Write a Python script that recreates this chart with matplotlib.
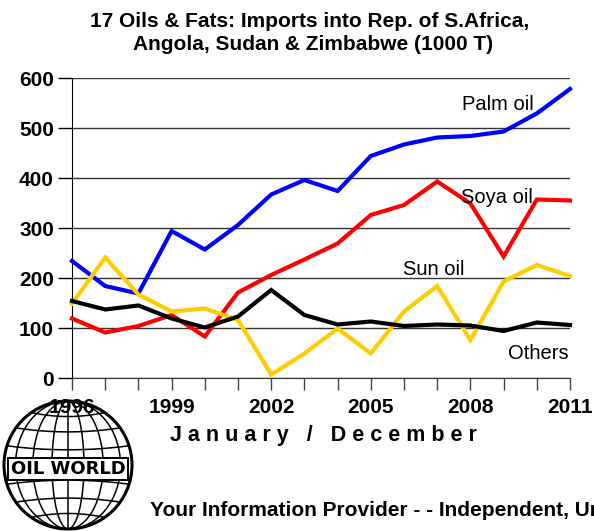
import numpy as np
import matplotlib
matplotlib.use("Agg")
import matplotlib.pyplot as plt
from matplotlib.patches import Ellipse, Circle

plt.rcParams["font.family"] = ["Liberation Sans", "DejaVu Sans"]

# 数据(1000 T),按年份读取
years = list(range(1996, 2012))
palm_oil = [234, 184, 169, 294, 257, 306, 367, 396, 374, 444, 467, 481, 484, 493, 529, 578]
soya_oil = [119, 91, 104, 126, 83, 171, 206, 237, 269, 326, 346, 393, 349, 243, 357, 355]
sun_oil = [149, 241, 167, 133, 139, 116, 7, 49, 99, 49, 133, 184, 76, 193, 226, 204]
others = [154, 137, 145, 119, 101, 123, 176, 126, 107, 113, 104, 107, 105, 94, 111, 106]

series_names = ["Palm oil", "Soya oil", "Sun oil", "Others"]
series_colors = ["#0000FF", "#FF0000", "#FFCC00", "#000000"]
x_labels = [1996, 1999, 2002, 2005, 2008, 2011]

W, H = 594, 531
fig = plt.figure(figsize=(W / 100, H / 100), dpi=100)
ax = fig.add_axes([72 / W, 1 - 378 / H, (570 - 72) / W, (378 - 78) / H])

for vals, col in zip([palm_oil, soya_oil, sun_oil, others], series_colors):
    ax.plot(years, vals, color=col, lw=3.0, solid_joinstyle="miter", zorder=3, clip_on=False)

ax.set_xlim(1996, 2011)
ax.set_ylim(0, 600)
ax.set_yticks(range(0, 601, 100))
ax.set_xticks(years, minor=True)
ax.set_xticks(x_labels)
ax.set_xticklabels([str(v) for v in x_labels], fontsize=15, fontweight="bold")
ax.set_yticklabels([str(v) for v in range(0, 601, 100)], fontsize=15, fontweight="bold")
ax.tick_params(axis="x", which="both", direction="out", length=8.6, width=1, color="#444444", pad=6)
ax.tick_params(axis="y", direction="out", length=10, width=1, pad=3)
ax.grid(axis="y", color="#333333", lw=1)
for s in ["top", "right"]:
    ax.spines[s].set_visible(False)
ax.spines["left"].set_color("black")
ax.spines["bottom"].set_color("#333333")

# 曲线标签
ax.text(2007.75, 536, "Palm oil", fontsize=14.5, ha="left", va="baseline")
ax.text(2009.89, 350, "Soya oil", fontsize=14.5, ha="right", va="baseline")
ax.text(2005.97, 206, "Sun oil", fontsize=14.5, ha="left", va="baseline")
ax.text(2009.13, 38, "Others", fontsize=14.5, ha="left", va="baseline")

# 标题
fig.text(310 / W, 1 - 27 / H, "17 Oils & Fats: Imports into Rep. of S.Africa,",
         ha="center", va="baseline", fontsize=15, fontweight="bold")
fig.text(313 / W, 1 - 50 / H, "Angola, Sudan & Zimbabwe (1000 T)",
         ha="center", va="baseline", fontsize=15, fontweight="bold")

fig.text(323 / W, 1 - 441 / H, " ".join("January / December"),
         ha="center", va="baseline", fontsize=15.5, fontweight="bold")
# 原图中这行字在右边缘被截断
fig.text(150 / W, 1 - 516 / H, "Your Information Provider - - Independent, Unbiased",
         ha="left", va="baseline", fontsize=15, fontweight="bold")

# OIL WORLD 标志(简化的地球),用像素坐标
lax = fig.add_axes([0, 0, 1, 1], zorder=-1)
lax.set_xlim(0, W)
lax.set_ylim(H, 0)
lax.axis("off")
cx, cy, R = 68, 465, 64
lax.add_patch(Circle((cx, cy), R, fill=False, lw=2.2, color="black"))
for f in [0.25, 0.55, 0.82]:
    lax.add_patch(Ellipse((cx, cy), 2 * R * f, 2 * R, fill=False, lw=1.1, color="black"))
lax.plot([cx, cx], [cy - R, cy + R], color="black", lw=1.1)
for lat in [-0.82, -0.58, -0.3, 0.3, 0.58, 0.82]:
    yy = cy + R * lat
    half = R * np.sqrt(1 - lat ** 2)
    xs = np.linspace(cx - half, cx + half, 40)
    ys = yy - 4 * np.sign(lat) * (1 - ((xs - cx) / half) ** 2)
    lax.plot(xs, ys, color="black", lw=1.1)
lax.text(cx, cy + 4, "OIL WORLD", ha="center", va="center", fontsize=13,
         fontweight="bold", family=["DejaVu Sans"],
         bbox=dict(boxstyle="square,pad=0.12", fc="white", ec="black", lw=1.4))

fig.savefig("out.png", dpi=100)
